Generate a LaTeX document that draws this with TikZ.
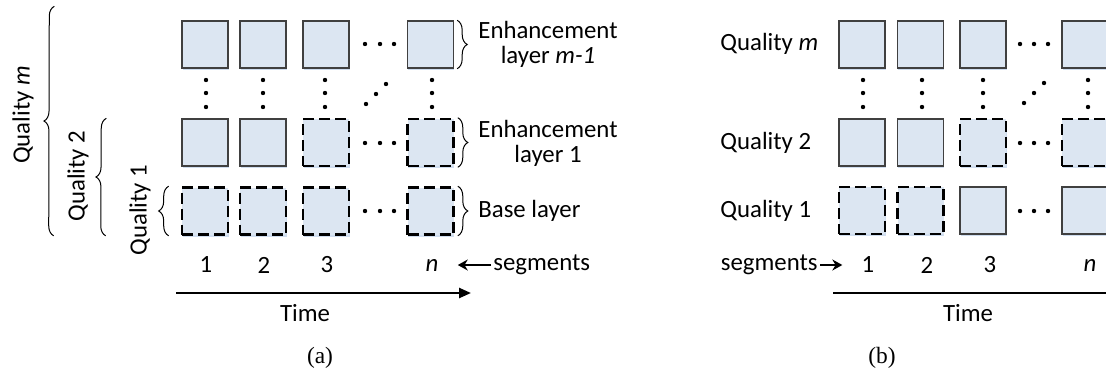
\documentclass[tikz,border=0pt]{standalone}
\usepackage{fontspec}
\setmainfont{Carlito}
\newfontfamily\capfont{Liberation Serif}
\usetikzlibrary{decorations.pathreplacing,shadows,arrows.meta}
\definecolor{blkfill}{RGB}{220,230,242}
\definecolor{blkshadow}{RGB}{175,198,228}

\begin{document}
\begin{tikzpicture}[
					x=0.5pt, y=-0.5pt,
					font=\fontsize{12.4}{12.4}\selectfont,
					inner sep=1pt,
					blk/.style={rectangle,draw=black!75,line width=0.7pt,fill=blkfill,
						minimum width=23pt,minimum height=23.5pt,inner sep=0pt,
						drop shadow={shadow xshift=0.3pt,shadow yshift=-1pt,fill=blkshadow,opacity=0.6}},
					blkdash/.style={blk,draw=black,line width=1.3pt,dash pattern=on 5.5pt off 2.5pt},
					brc/.style={decorate,decoration={brace,amplitude=5pt},line width=0.5pt},
					arr/.style={line width=0.8pt,-{Stealth[length=5pt,width=5.5pt]}},
					axis/.style={line width=1.2pt,-{Triangle[length=6pt,width=5pt]}},
					]
					\clip (0,0) rectangle (1106,375);
					% (a) layers
					\node [blk] (at1) at (205,44.5) {};
					\node [blk] (at2) at (263,44.5) {};
					\node [blk] (at3) at (326,44.5) {};
					\node [blk] (atn) at (430.5,44.5) {};
					\node [blk] (am1) at (205,142.5) {};
					\node [blk] (am2) at (263,142.5) {};
					\node [blkdash] (am3) at (326,142.5) {};
					\node [blkdash] (amn) at (430.5,142.5) {};
					\node [blkdash] (ab1) at (205,211) {};
					\node [blkdash] (ab2) at (263,211) {};
					\node [blkdash] (ab3) at (326,211) {};
					\node [blkdash] (abn) at (430.5,211) {};
					% (b) qualities
					\node [blk] (bt1) at (862,44.5) {};
					\node [blk] (bt2) at (920.5,44.5) {};
					\node [blk] (bt3) at (983,44.5) {};
					\node [blk] (btn) at (1085,44.5) {};
					\node [blk] (bm1) at (862,142.5) {};
					\node [blk] (bm2) at (920.5,142.5) {};
					\node [blkdash] (bm3) at (983,142.5) {};
					\node [blkdash] (bmn) at (1085,142.5) {};
					\node [blkdash] (bb1) at (862,210.5) {};
					\node [blkdash] (bb2) at (920.5,210.5) {};
					\node [blk] (bb3) at (983,210.5) {};
					\node [blk] (bbn) at (1085,210.5) {};
					% dots
					\foreach \y in {44,143,211}
						\foreach \x in {365,380,394,1020,1034,1048}
							\fill (\x,\y) circle (1.1pt);
					\foreach \x in {206,263,325,432,863,922,983,1088}
						\foreach \y in {80,93,107}
							\fill (\x,\y) circle (1.1pt);
					\foreach \x/\y in {366/104,376/94,386/84,1024/103,1034/93,1044/83}
						\fill (\x,\y) circle (1.1pt);
					% braces (a)
					\draw[brc] ([xshift=-6pt]ab1.south west) -- ([xshift=-6pt]ab1.north west);
					\draw[brc] ([xshift=-37.5pt]ab1.south west) -- ([xshift=-37.5pt]am1.north west);
					\draw[brc] ([xshift=-63.5pt]ab1.south west) -- ([xshift=-63.5pt,yshift=7pt]at1.north west);
					\draw[brc] ([xshift=1.5pt]atn.north east) -- ([xshift=1.5pt]atn.south east);
					\draw[brc] ([xshift=1.5pt]amn.north east) -- ([xshift=1.5pt]amn.south east);
					\draw[brc] ([xshift=1.5pt]abn.north east) -- ([xshift=1.5pt]abn.south east);
					\node [rotate=90] (qam) at (23,115) {Quality \textit{m}};
					\node [rotate=90] (qa2) at (78,176) {Quality 2};
					\node [rotate=90] (qa1) at (140,210) {Quality 1};
					\node [anchor=west,align=center] (lem) at (476,44) {Enhancement\\layer \textit{m-1}};
					\node [anchor=west,align=center] (le1) at (476,143) {Enhancement\\layer 1};
					\node [anchor=west] (lbase) at (476,211) {Base layer};
					% labels (b)
					\node [anchor=west] (qbm) at (718,44) {Quality \textit{m}};
					\node [anchor=west] (qb2) at (718,143) {Quality 2};
					\node [anchor=west] (qb1) at (718,211) {Quality 1};
					% segments (a)
					\node (na1) at (206,265) {1};
					\node (na2) at (264,265) {2};
					\node (na3) at (327,265) {3};
					\node (nan) at (432,265) {\textit{n}};
					\node [anchor=west] (sega) at (491,265) {segments};
					\draw[arr,shorten >=8.5pt] (sega.west) -- (nan.east);
					\coordinate (ta0) at (176,293);
					\coordinate (ta1) at (471,293);
					\draw[axis] (ta0) -- (ta1);
					\node (tima) at (305,313) {Time};
					\node [font=\capfont\fontsize{11.7}{12}\selectfont] (capa) at (320,358) {(a)};
					% segments (b)
					\node (nb1) at (868,265) {1};
					\node (nb2) at (927,265) {2};
					\node (nb3) at (990,265) {3};
					\node (nbn) at (1090,265) {\textit{n}};
					\node [anchor=east] (segb) at (820,265) {segments};
					\draw[arr,shorten >=8.5pt] (segb.east) -- (nb1.west);
					\coordinate (tb0) at (833,293);
					\coordinate (tb1) at (1140,293);
					\draw[axis] (tb0) -- (tb1);
					\node (timb) at (968,313) {Time};
					\node [font=\capfont\fontsize{11.7}{12}\selectfont] (capb) at (882,358) {(b)};
				\end{tikzpicture}
\end{document}
